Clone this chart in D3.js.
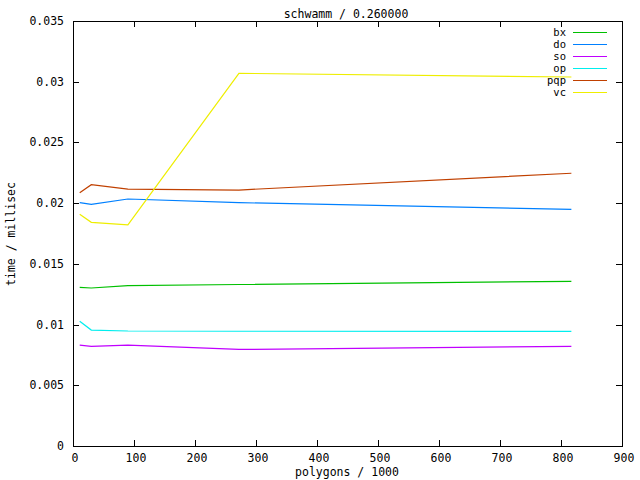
<!DOCTYPE html>
<html>
<head>
<meta charset="utf-8">
<script src="https://cdn.jsdelivr.net/npm/d3@7"></script>
<style>
  html, body { margin: 0; padding: 0; background: #fff; }
  svg text { font-family: "DejaVu Sans Mono", monospace; font-size: 11.5px; fill: #000; }
  svg text.leg { font-size: 10.5px; }
</style>
</head>
<body>
<svg id="chart" width="640" height="480"></svg>
<script>
const xValues = [11, 30, 90, 272, 817];
const seriesNames = ["bx", "do", "so", "op", "pqp", "vc"];
const bx  = [0.01307, 0.01301, 0.01320, 0.01330, 0.01356];
const doS = [0.02004, 0.01990, 0.02034, 0.02004, 0.01949];
const so  = [0.00830, 0.00821, 0.00830, 0.00795, 0.00821];
const op  = [0.01027, 0.00955, 0.00947, 0.00945, 0.00944];
const pqp = [0.02086, 0.02152, 0.02116, 0.02108, 0.02246];
const vc  = [0.01908, 0.01842, 0.01822, 0.03069, 0.03039];
const xTicks = [0, 100, 200, 300, 400, 500, 600, 700, 800, 900];
const yTicks = [0, 0.005, 0.01, 0.015, 0.02, 0.025, 0.03, 0.035];
const yTickLabels = ["0", "0.005", "0.01", "0.015", "0.02", "0.025", "0.03", "0.035"];
const colors = ["#00c000", "#0080ff", "#c000ff", "#00eeee", "#c04000", "#eeee00"];
const title = "schwamm / 0.260000";
const xLabel = "polygons / 1000";
const yLabel = "time / millisec";

const allSeries = [bx, doS, so, op, pqp, vc];

const svg = d3.select("#chart");
const L = 73, R = 622, T = 21, B = 446;
const x = d3.scaleLinear().domain([0, 900]).range([L, R]);
const y = d3.scaleLinear().domain([0, 0.035]).range([B, T]);
const tl = 6;

const axes = svg.append("g").attr("shape-rendering", "crispEdges");

// ticks (inward, mirrored)
axes.selectAll(".xb").data(xTicks).enter().append("line")
  .attr("x1", d => Math.round(x(d)) + 0.5).attr("x2", d => Math.round(x(d)) + 0.5)
  .attr("y1", B).attr("y2", B - tl).attr("stroke", "#000");
axes.selectAll(".xt").data(xTicks).enter().append("line")
  .attr("x1", d => Math.round(x(d)) + 0.5).attr("x2", d => Math.round(x(d)) + 0.5)
  .attr("y1", T).attr("y2", T + tl).attr("stroke", "#000");
axes.selectAll(".yl").data(yTicks).enter().append("line")
  .attr("y1", d => Math.round(y(d)) + 0.5).attr("y2", d => Math.round(y(d)) + 0.5)
  .attr("x1", L).attr("x2", L + tl).attr("stroke", "#000");
axes.selectAll(".yr").data(yTicks).enter().append("line")
  .attr("y1", d => Math.round(y(d)) + 0.5).attr("y2", d => Math.round(y(d)) + 0.5)
  .attr("x1", R).attr("x2", R - tl).attr("stroke", "#000");

// border
axes.append("rect").attr("x", L + 0.5).attr("y", T + 0.5)
  .attr("width", R - L).attr("height", B - T)
  .attr("fill", "none").attr("stroke", "#000");

// tick labels
svg.selectAll(".xlab").data(xTicks).enter().append("text")
  .attr("x", d => x(d) + 2).attr("y", B + 16)
  .attr("text-anchor", "middle").text(d => d);
svg.selectAll(".ylab").data(yTicks).enter().append("text")
  .attr("x", L - 9).attr("y", d => y(d) + 4)
  .attr("text-anchor", "end").text((d, i) => yTickLabels[i]);

// titles
svg.append("text").attr("x", 346).attr("y", 18).attr("text-anchor", "middle").text(title);
svg.append("text").attr("x", 347).attr("y", 476).attr("text-anchor", "middle").text(xLabel);
svg.append("text").attr("transform", "translate(15,234) rotate(-90)")
  .attr("text-anchor", "middle").text(yLabel);

// series lines
const line = d3.line().x((d, i) => x(xValues[i])).y(d => y(d));
allSeries.forEach((s, k) => {
  svg.append("path").datum(s).attr("d", line)
    .attr("fill", "none").attr("stroke", colors[k]).attr("stroke-width", 1.2);
});

// legend
seriesNames.forEach((n, k) => {
  const yy = 32.5 + k * 12;
  svg.append("text").attr("class", "leg").attr("x", 566).attr("y", yy + 3.5)
    .attr("text-anchor", "end").text(n);
  svg.append("line").attr("x1", 573).attr("x2", 607).attr("y1", yy).attr("y2", yy)
    .attr("stroke", colors[k]).attr("shape-rendering", "crispEdges");
});
</script>
</body>
</html>
